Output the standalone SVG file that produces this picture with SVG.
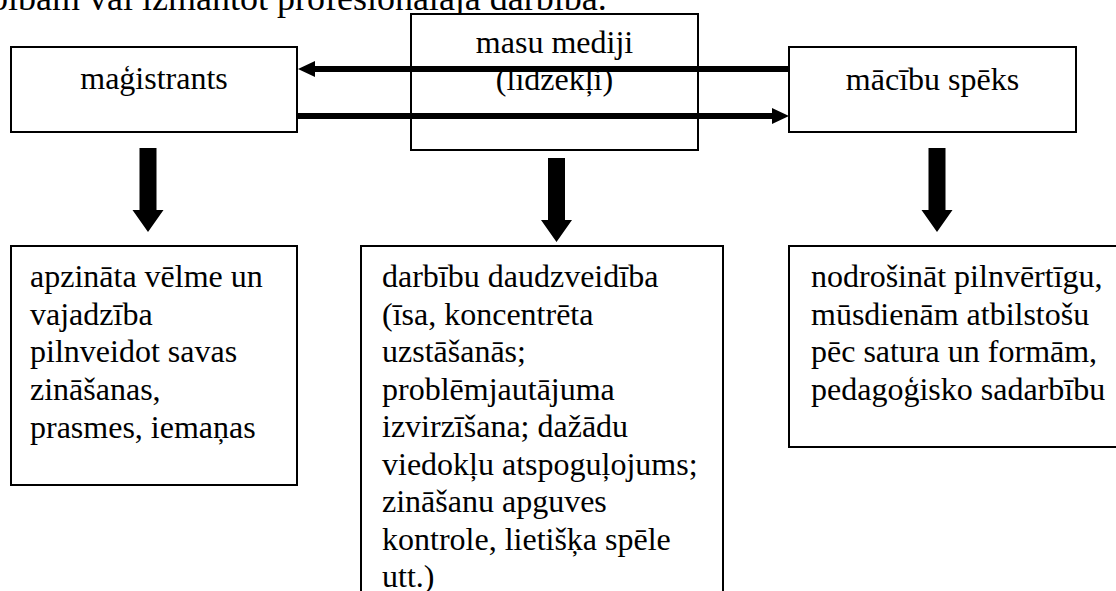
<svg xmlns="http://www.w3.org/2000/svg" width="1116" height="591" viewBox="0 0 1116 591">
<style>
.t{font-size:32px}
.c{text-anchor:middle}
.box{fill:#fff;stroke:#000;stroke-width:2}
.hl{stroke:#000;stroke-width:6;fill:none}
.da{fill:#000}
</style>
<defs>
<marker id="ah" markerUnits="userSpaceOnUse" markerWidth="18" markerHeight="17" refX="0" refY="8" orient="auto" viewBox="0 0 18 16" overflow="visible">
<path d="M0,0 L17,8 L0,16 Z" fill="#000"/>
</marker>
<path id="down" d="M-8.5,0 H8.5 V62 H15.5 L0,84 L-15.5,62 H-8.5 Z"/>
</defs>
<rect width="1116" height="591" fill="#fff"/>
<g font-family="'Liberation Serif', 'DejaVu Serif', serif" fill="#000">
<text x="-10" y="10" font-size="36">bībām vai izmantot profesionālajā darbībā.</text>
<g id="magistrants">
<rect class="box" x="11" y="47" width="286" height="85"/>
<text class="t c" x="154" y="89">maģistrants</text>
</g>
<g id="masu-mediji">
<rect class="box" x="411" y="14" width="287" height="136"/>
<text class="t c" x="554.5" y="53">masu mediji</text>
<text class="t c" x="554.5" y="90">(līdzekļi)</text>
</g>
<g id="macibu-speks">
<rect class="box" x="789" y="47" width="287" height="85"/>
<text class="t c" x="932.5" y="90">mācību spēks</text>
</g>
<g id="apzinata">
<rect class="box" x="11" y="246" width="286" height="239"/>
<text class="t" x="30" y="287">apzināta vēlme un</text>
<text class="t" x="30" y="324.7">vajadzība</text>
<text class="t" x="30" y="362.4">pilnveidot savas</text>
<text class="t" x="30" y="400.1">zināšanas,</text>
<text class="t" x="30" y="437.8">prasmes, iemaņas</text>
</g>
<g id="darbibu">
<rect class="box" x="361" y="246" width="362" height="380"/>
<text class="t" x="382" y="287">darbību daudzveidība</text>
<text class="t" x="382" y="324.5">(īsa, koncentrēta</text>
<text class="t" x="382" y="362">uzstāšanās;</text>
<text class="t" x="382" y="399.5">problēmjautājuma</text>
<text class="t" x="382" y="437">izvirzīšana; dažādu</text>
<text class="t" x="382" y="474.5">viedokļu atspoguļojums;</text>
<text class="t" x="382" y="512">zināšanu apguves</text>
<text class="t" x="382" y="549.5">kontrole, lietišķa spēle</text>
<text class="t" x="382" y="587">utt.)</text>
</g>
<g id="nodrosinat">
<rect class="box" x="789" y="246" width="340" height="201"/>
<text class="t" x="811" y="287">nodrošināt pilnvērtīgu,</text>
<text class="t" x="811" y="324.5">mūsdienām atbilstošu</text>
<text class="t" x="811" y="362">pēc satura un formām,</text>
<text class="t" x="811" y="399.5">pedagoģisko sadarbību</text>
</g>
</g>
<g id="connectors">
<line class="hl" x1="789" y1="69" x2="315" y2="69" marker-end="url(#ah)"/>
<line class="hl" x1="297" y1="116" x2="772" y2="116" marker-end="url(#ah)"/>
<use href="#down" class="da" transform="translate(148,148)"/>
<use href="#down" class="da" transform="translate(556.5,158)"/>
<use href="#down" class="da" transform="translate(937,148)"/>
</g>
</svg>
